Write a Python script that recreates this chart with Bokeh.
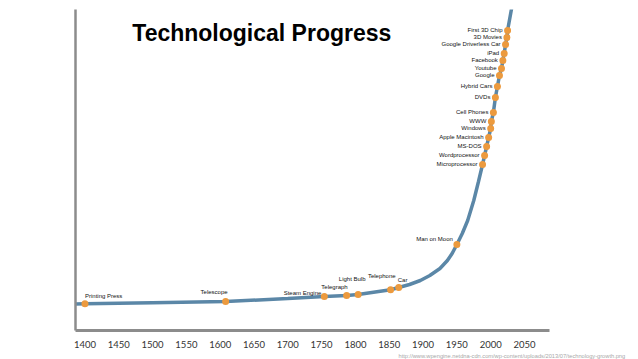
from bokeh.plotting import figure
from bokeh.models import ColumnDataSource, Range1d, FixedTicker, Label, LinearAxis, Title
from bokeh.core.properties import value
from bokeh.embed import file_html
from bokeh.resources import INLINE

# ---- data ----
event_names = ["Printing Press", "Telescope", "Steam Engine", "Telegraph", "Light Bulb",
               "Telephone", "Car", "Man on Moon", "Microprocessor", "Wordprocessor",
               "MS-DOS", "Apple Macintosh", "Windows", "WWW", "Cell Phones", "DVDs",
               "Hybrid Cars", "Google", "Youtube", "Facebook", "iPad",
               "Google Driverless Car", "3D Movies", "First 3D Chip"]
event_years = [1400, 1608, 1754, 1787, 1804, 1852, 1864, 1950, 1988, 1991,
               1994, 1997, 2000, 2001, 2004, 2007, 2010, 2013, 2016, 2018, 2020,
               2022, 2024, 2025]
event_values = [26.7, 29, 34, 35, 36, 40.7, 43, 86, 166, 175,
                184, 193, 202, 209, 218, 233, 244, 255, 262, 270, 277,
                286, 293, 300]

# extra points along the curve
curve_years_extra = [1386, 1500, 1700, 1880, 1896, 1910, 1925, 1936, 1943, 1958, 1966, 1975, 1982, 2032]
curve_values_extra = [26.5, 27.8, 32, 46, 50, 55, 62, 70, 77, 97, 110, 130, 149, 326]

tick_years = [1400, 1450, 1500, 1550, 1600, 1650, 1700, 1750, 1800, 1850, 1900, 1950, 2000, 2050]

title_text = "Technological Progress"
source_text = "http://www.wpengine.netdna-cdn.com/wp-content/uploads/2013/07/technology-growth.png"

# ---- label layout (screen pixel offsets) ----
label_dx = [0, 2, -3, 1, -6, 5, -1, -4] + [-5] * 16
label_dy = [-8, -10, -4, -9, -16, -14, -8, -6] + [-1] * 16
label_align = ["left", "right", "right", "right", "center", "right", "left", "right"] + ["right"] * 16

# ---- build ----
pts = sorted(zip(event_years + curve_years_extra, event_values + curve_values_extra))
curve_x = [a for a, b in pts]
curve_y = [b for a, b in pts]

p = figure(width=638, height=359, output_backend="svg", toolbar_location=None,
           x_range=Range1d(1386, 2087), y_range=Range1d(0, 321),
           min_border_left=75, min_border_right=89, min_border_top=9, min_border_bottom=29,
           x_axis_location=None, y_axis_location=None)
p.outline_line_color = None
p.xgrid.grid_line_color = None
p.ygrid.grid_line_color = None
p.background_fill_color = "white"
p.border_fill_color = "white"

xaxis = LinearAxis(ticker=FixedTicker(ticks=tick_years))
xaxis.axis_line_color = "#8c8c8c"
xaxis.axis_line_width = 3
xaxis.major_tick_line_color = None
xaxis.minor_tick_line_color = None
xaxis.major_label_standoff = 4
xaxis.major_label_text_font = "Lato"
xaxis.major_label_text_font_size = "9.5px"
xaxis.major_label_text_color = "#333333"
p.add_layout(xaxis, "below")

p.add_layout(Title(text=source_text, align="left", offset=323, standoff=0,
                   text_font="Liberation Sans", text_font_size="5.7px",
                   text_font_style="normal", text_color="#a8a8a8"), "below")

yaxis = LinearAxis(ticker=FixedTicker(ticks=[]))
yaxis.axis_line_color = "#8c8c8c"
yaxis.axis_line_width = 2.5
yaxis.major_tick_line_color = None
yaxis.minor_tick_line_color = None
yaxis.major_label_text_color = None
p.add_layout(yaxis, "left")

p.line(curve_x, curve_y, line_color="#5b87a7", line_width=3.5)

src = ColumnDataSource(dict(x=event_years, y=event_values, name=event_names,
                            dx=label_dx, dy=label_dy, align=label_align))
p.scatter("x", "y", source=src, size=7, fill_color="#ec9a3e", line_color=None)
p.text("x", "y", text="name", source=src, x_offset="dx", y_offset="dy",
       text_align="align", text_baseline="middle",
       text_font=value("Liberation Sans"), text_font_size="6px", text_color="#111111")

p.add_layout(Label(x=1470, y=298, text=title_text, text_font="Liberation Sans",
                   text_font_style="bold", text_font_size="23px", text_color="black",
                   text_baseline="alphabetic"))

open("out.html", "w").write(file_html(p, INLINE))
